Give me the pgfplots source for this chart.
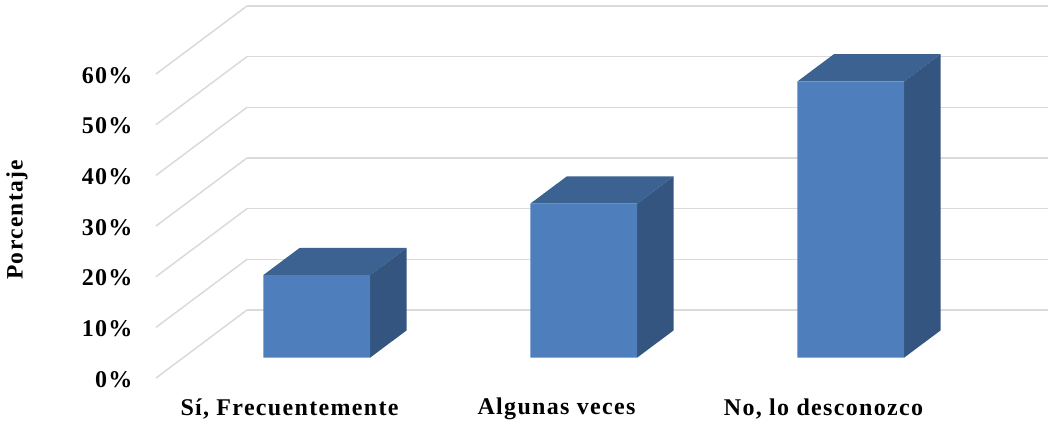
\documentclass[border=0pt]{standalone}
\usepackage{fontspec}
\setmainfont{Liberation Serif}[LetterSpace=5.5]
\usepackage{pgfplots}
\pgfplotsset{compat=1.18}

\definecolor{front}{HTML}{4E7FBC}
\definecolor{topf}{HTML}{3B6291}
\definecolor{sidef}{HTML}{33557F}
\definecolor{gridc}{HTML}{DADADA}

% one 3D column: x left, x right, value (depth runs 0.3 to 0.7)
\newcommand{\column}[3]{
  \addplot3[draw=none, fill=topf] coordinates {(#1,0.3,#3) (#2,0.3,#3) (#2,0.7,#3) (#1,0.7,#3) (#1,0.3,#3)};
  \addplot3[draw=none, fill=sidef] coordinates {(#2,0.3,0) (#2,0.7,0) (#2,0.7,#3) (#2,0.3,#3) (#2,0.3,0)};
  \addplot3[draw=none, fill=front] coordinates {(#1,0.3,0) (#2,0.3,0) (#2,0.3,#3) (#1,0.3,#3) (#1,0.3,0)};
}

\begin{document}
\begin{tikzpicture}
\useasboundingbox (0,0) rectangle (1052pt,423pt);
\begin{axis}[
    at={(156pt,45pt)}, anchor=origin,
    x={(267pt,0pt)}, y={(91pt,68pt)}, z={(0pt,5.067pt)},
    xmin=0, xmax=3, ymin=0, ymax=1, zmin=0, zmax=60,
    clip=false,
    axis line style={draw=none},
    tick style={draw=none},
    ytick=\empty,
    xtick={0.5,1.5,2.5},
    xticklabels={{Sí, Frecuentemente},{Algunas veces},{No, lo desconozco}},
    ztick={0,10,20,30,40,50,60},
    zticklabels={0\%,10\%,20\%,30\%,40\%,50\%,60\%},
    zmajorgrids=true,
    grid style={gridc, line width=1.5pt},
    tick label style={font=\fontsize{24}{28}\selectfont\bfseries},
    x tick label style={anchor=center, yshift=-31pt},
    z tick label style={anchor=east, xshift=-20pt, yshift=-1.5pt},
]
\column{0.3}{0.7}{16.3}
\column{1.3}{1.7}{30.4}
\column{2.3}{2.7}{54.5}
\node[rotate=90, font=\fontsize{23.5}{27}\selectfont\bfseries, yshift=139pt]
    at (axis cs:0,0,31.2) {Porcentaje};
\end{axis}
\end{tikzpicture}
\end{document}
